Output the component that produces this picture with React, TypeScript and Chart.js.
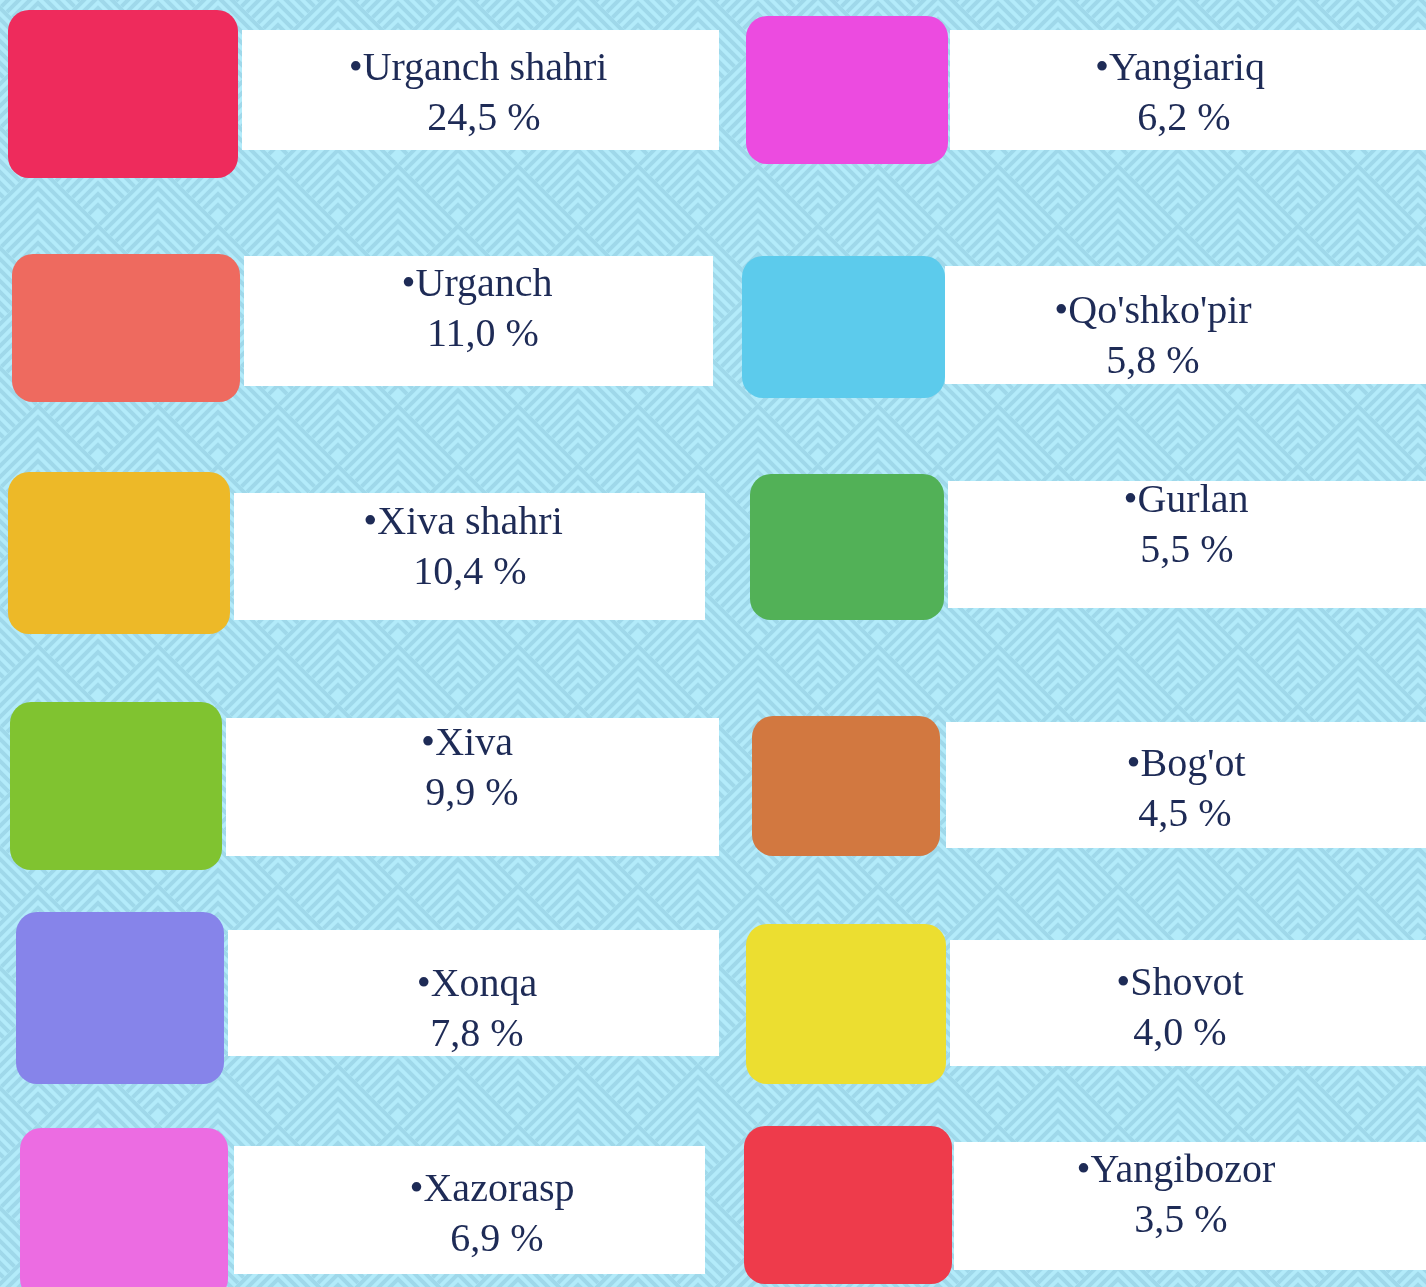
import React, { useEffect, useRef } from "react";
import { Chart, registerables } from "chart.js";

Chart.register(...registerables);

// ---- data ----
const categories = [
  "Urganch shahri",
  "Urganch",
  "Xiva shahri",
  "Xiva",
  "Xonqa",
  "Xazorasp",
  "Yangiariq",
  "Qo'shko'pir",
  "Gurlan",
  "Bog'ot",
  "Shovot",
  "Yangibozor",
];
const shares = [24.5, 11.0, 10.4, 9.9, 7.8, 6.9, 6.2, 5.8, 5.5, 4.5, 4.0, 3.5];
const swatchColors = [
  "#EE2B5C",
  "#EE6A5F",
  "#EDB928",
  "#80C330",
  "#8684EA",
  "#EC6CE2",
  "#EC4BE0",
  "#5CCBEC",
  "#52B157",
  "#D27840",
  "#ECDE30",
  "#EE3B4B",
];

// ---- layout (page units, mapped through the chart scales) ----
// [x0, x1, y0, y1]
const swatchBoxes = [
  [8, 238, 10, 178],
  [12, 240, 254, 402],
  [8, 230, 472, 634],
  [10, 222, 702, 870],
  [16, 224, 912, 1084],
  [20, 228, 1128, 1300],
  [746, 948, 16, 164],
  [742, 945, 256, 398],
  [750, 944, 474, 620],
  [752, 940, 716, 856],
  [746, 946, 924, 1084],
  [744, 952, 1126, 1284],
];
const labelBoxes = [
  [242, 719, 30, 150],
  [244, 713, 256, 386],
  [234, 705, 493, 620],
  [226, 719, 718, 856],
  [228, 719, 930, 1056],
  [234, 705, 1146, 1274],
  [950, 1430, 30, 150],
  [945, 1430, 266, 384],
  [948, 1430, 481, 608],
  [946, 1430, 722, 848],
  [950, 1430, 940, 1066],
  [954, 1430, 1142, 1270],
];
// [centre x of line 1, centre x of line 2, baseline of line 1]
const textAnchors = [
  [478, 484, 80],
  [477, 483, 296],
  [463, 470, 534],
  [467, 472, 755],
  [477, 477, 996],
  [492, 497, 1201],
  [1180, 1184, 80],
  [1153, 1153, 323],
  [1186, 1187, 512],
  [1186, 1185, 776],
  [1180, 1180, 995],
  [1176, 1181, 1182],
];
const LINE_GAP = 50;
const WIDTH = 1426;
const HEIGHT = 1287;

const BG = "#B3EBFA";
const BG_LINE = "#9FD8EA";
const TEXT_COLOR = "#1E2B56";
const FONT = "40px 'Liberation Serif', 'Times New Roman', serif";

const fmt = (v: number) => v.toFixed(1).replace(".", ",") + " %";

const backgroundPlugin = {
  id: "bgPattern",
  beforeDatasetsDraw(chart: any) {
    const { ctx, chartArea } = chart;
    const xs = chart.scales.x;
    const ys = chart.scales.y;
    ctx.save();
    ctx.beginPath();
    ctx.rect(chartArea.left, chartArea.top, chartArea.right - chartArea.left, chartArea.bottom - chartArea.top);
    ctx.clip();
    ctx.fillStyle = BG;
    ctx.fillRect(chartArea.left, chartArea.top, chartArea.right - chartArea.left, chartArea.bottom - chartArea.top);
    ctx.strokeStyle = BG_LINE;
    ctx.lineWidth = 4;
    const s = xs.getPixelForValue(60) - xs.getPixelForValue(0);
    const step = xs.getPixelForValue(11) - xs.getPixelForValue(0);
    for (let b = -3; b <= 24; b++) {
      for (let a = -2; a <= 26; a++) {
        if (((a + b) & 1) !== 0) continue;
        const ax = xs.getPixelForValue(38 + 60 * a);
        const ay = ys.getPixelForValue(43 + 60 * b);
        ctx.save();
        ctx.beginPath();
        ctx.moveTo(ax, ay);
        ctx.lineTo(ax + s, ay + s);
        ctx.lineTo(ax, ay + 2 * s);
        ctx.lineTo(ax - s, ay + s);
        ctx.closePath();
        ctx.clip();
        ctx.beginPath();
        for (let k = 0; k < 10; k++) {
          const o = 3 + k * step;
          ctx.moveTo(ax - s - 4, ay + o + s + 4);
          ctx.lineTo(ax, ay + o);
          ctx.lineTo(ax + s + 4, ay + o + s + 4);
        }
        ctx.stroke();
        ctx.restore();
      }
    }
    ctx.restore();
  },
};

const textPlugin = {
  id: "cardText",
  afterDatasetsDraw(chart: any) {
    const { ctx } = chart;
    const xs = chart.scales.x;
    const ys = chart.scales.y;
    ctx.save();
    ctx.fillStyle = TEXT_COLOR;
    ctx.font = FONT;
    ctx.textAlign = "center";
    ctx.textBaseline = "alphabetic";
    categories.forEach((name, i) => {
      const [c1, c2, b1] = textAnchors[i];
      ctx.fillText("\u2022" + name, xs.getPixelForValue(c1), ys.getPixelForValue(b1));
      ctx.fillText(fmt(shares[i]), xs.getPixelForValue(c2), ys.getPixelForValue(b1 + LINE_GAP));
    });
    ctx.restore();
  },
};

export default function App() {
  const ref = useRef<HTMLCanvasElement | null>(null);

  useEffect(() => {
    document.body.style.margin = "0";
    document.body.style.overflow = "hidden";
    if (!ref.current) return;

    const boxDataset = (box: number[], color: string, radius: number, name: string) => ({
      label: name,
      data: [{ x: [box[0], box[1]], y: (box[2] + box[3]) / 2 }],
      backgroundColor: color,
      borderWidth: 0,
      borderRadius: radius,
      borderSkipped: false,
      barThickness: box[3] - box[2],
      grouped: false,
      inflateAmount: 0,
    });

    const datasets: any[] = [];
    categories.forEach((name, i) => {
      datasets.push(boxDataset(labelBoxes[i], "#FFFFFF", 0, name + " label"));
    });
    categories.forEach((name, i) => {
      datasets.push(boxDataset(swatchBoxes[i], swatchColors[i], 21, name));
    });

    const chart = new Chart(ref.current, {
      type: "bar",
      data: { datasets },
      options: {
        indexAxis: "y",
        animation: false,
        responsive: false,
        events: [],
        layout: { padding: 0 },
        plugins: {
          legend: { display: false },
          tooltip: { enabled: false },
          title: { display: false },
        },
        scales: {
          x: { type: "linear", min: 0, max: WIDTH, display: false, offset: false },
          y: { type: "linear", min: 0, max: HEIGHT, reverse: true, display: false, offset: false },
        },
      } as any,
      plugins: [backgroundPlugin, textPlugin],
    });
    return () => chart.destroy();
  }, []);

  return (
    <div style={{ width: WIDTH, height: HEIGHT }}>
      <canvas ref={ref} width={WIDTH} height={HEIGHT} style={{ display: "block", width: WIDTH, height: HEIGHT }} />
    </div>
  );
}
